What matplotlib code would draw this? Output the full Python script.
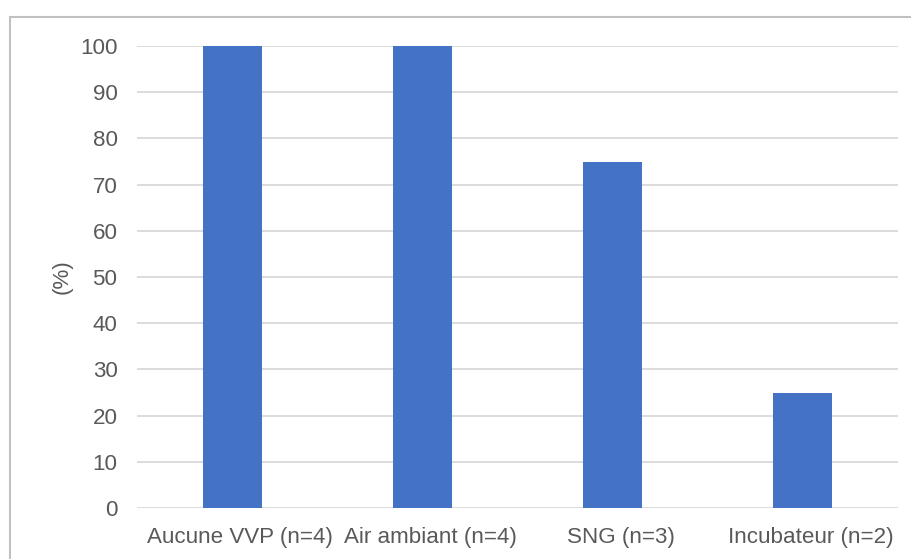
import matplotlib.pyplot as plt
import matplotlib.transforms as mtransforms
from matplotlib.patches import Rectangle

categories = ['Aucune VVP (n=4)', 'Air ambiant (n=4)', 'SNG (n=3)', 'Incubateur (n=2)']
values = [100, 100, 75, 25]
yticks = [0, 10, 20, 30, 40, 50, 60, 70, 80, 90, 100]

plt.rcParams['font.family'] = ['Liberation Sans', 'DejaVu Sans']

W, H = 912, 559
fig = plt.figure(figsize=(W / 100, H / 100), dpi=100)
ax = fig.add_axes([137 / W, 1 - 508 / H, (898 - 137) / W, (508 - 46) / H])

# frame around the whole chart (goes off the right and bottom edge)
fig.patches.append(Rectangle((10 / W, -0.1), 1.2, (H - 17) / H + 0.1,
                             transform=fig.transFigure, fill=False,
                             edgecolor='#c0c0c0', linewidth=1.5))

x = range(len(categories))
ax.bar(x, values, width=0.31, color='#4472C4', zorder=3)

ax.set_xlim(-0.5, len(categories) - 0.5)
ax.set_ylim(0, 100)
ax.set_yticks(yticks)
ax.set_xticks(list(x))
ax.set_xticklabels(categories)
ax.grid(axis='y', color='#d9d9d9', linewidth=1.3, zorder=0)
ax.set_axisbelow(True)
for s in ax.spines.values():
    s.set_visible(False)
ax.tick_params(axis='both', length=0, labelsize=16.1, labelcolor='#595959')
ax.tick_params(axis='y', pad=14)
ax.tick_params(axis='x', pad=14)
ax.set_ylabel('(%)', fontsize=16.1, color='#595959', labelpad=5)

# category labels sit a little right of the bar centres in the original
shift = mtransforms.ScaledTranslation(8 / 100, 0, fig.dpi_scale_trans)
for lbl in ax.get_xticklabels():
    lbl.set_transform(lbl.get_transform() + shift)

fig.savefig('out.png', dpi=100)
